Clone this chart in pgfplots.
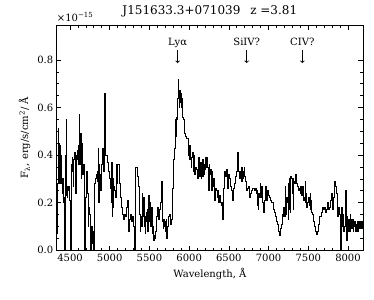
\documentclass[border=0pt]{standalone}
\usepackage{fontspec}
\setmainfont{DejaVu Serif}
\usepackage{pgfplots}
\pgfplotsset{compat=1.18}
\usepackage{pgfplotstable}
\pgfplotstableread{
lam flux
4337 0.07
4343 0.28
4349 0.51
4355 0.30
4362 0.45
4368 0.28
4374 0.44
4380 0.30
4387 0.40
4393 0.28
4400 0.24
4406 0.30
4412 0.20
4418 0.22
4425 -0.02
4437 0.26
4443 0.40
4450 0.55
4456 0.23
4463 0.22
4469 0.27
4475 0.25
4481 0.27
4488 0.21
4500 -0.02
4513 0.36
4525 0.39
4531 0.33
4538 0.27
4544 0.38
4551 0.41
4563 0.38
4569 0.24
4576 0.40
4588 0.38
4594 0.42
4601 0.44
4607 0.36
4614 0.57
4620 0.48
4626 0.36
4632 0.49
4639 0.30
4645 0.45
4651 0.32
4664 0.36
4677 -0.02
4689 0.22
4702 0.31
4708 0.33
4714 0.30
4720 0.24
4727 0.10
4733 0.18
4740 0.15
4752 -0.02
4765 0.05
4771 0.10
4777 0.03
4783 0.08
4790 -0.02
4802 0.06
4808 0.28
4815 0.30
4828 0.32
4840 0.33
4846 0.29
4853 0.43
4859 0.20
4865 0.36
4871 0.26
4878 0.32
4884 0.25
4891 0.36
4903 0.43
4909 0.36
4916 0.43
4922 0.33
4928 0.43
4934 0.66
4941 0.55
4947 0.40
4954 0.40
4966 0.37
4979 0.33
4991 0.30
5004 0.26
5016 0.20
5022 0.37
5029 0.14
5035 0.30
5042 0.18
5048 0.27
5054 0.25
5067 0.22
5079 0.28
5085 0.36
5092 0.28
5098 0.36
5105 0.36
5117 0.28
5130 0.22
5142 0.18
5155 0.15
5168 0.13
5180 0.15
5193 0.14
5205 0.18
5218 0.21
5231 0.14
5237 0.08
5243 0.13
5256 0.15
5268 0.12
5281 0.14
5294 0.10
5306 0.06
5312 -0.02
5325 0.35
5331 0.35
5344 0.31
5356 0.27
5369 0.20
5375 0.15
5382 0.08
5388 0.14
5394 0.10
5407 0.24
5413 0.20
5419 0.14
5425 0.22
5432 0.10
5438 0.14
5445 0.07
5451 0.12
5457 0.16
5470 0.17
5476 0.08
5482 0.10
5488 0.23
5495 0.18
5501 0.12
5508 0.20
5514 0.10
5520 0.18
5533 0.16
5539 0.07
5545 0.10
5551 0.04
5558 0.06
5570 0.05
5576 0.08
5583 0.14
5596 0.14
5602 0.18
5608 0.13
5621 0.17
5633 0.20
5646 0.20
5652 0.29
5659 0.24
5665 0.12
5671 0.09
5677 0.13
5684 0.10
5696 0.12
5702 0.08
5709 0.13
5715 0.05
5722 0.10
5734 0.14
5747 0.15
5759 0.11
5772 0.13
5784 0.26
5797 0.38
5810 0.43
5822 0.46
5828 0.55
5835 0.48
5841 0.56
5847 0.55
5853 0.64
5860 0.72
5866 0.66
5873 0.60
5879 0.67
5885 0.62
5891 0.66
5898 0.60
5904 0.64
5910 0.56
5923 0.55
5936 0.49
5948 0.48
5961 0.47
5973 0.47
5986 0.44
5992 0.40
5999 0.44
6005 0.38
6011 0.44
6017 0.38
6024 0.35
6030 0.39
6036 0.41
6049 0.38
6055 0.33
6061 0.40
6067 0.32
6074 0.35
6087 0.34
6099 0.30
6112 0.39
6124 0.38
6130 0.31
6137 0.37
6150 0.30
6156 0.37
6162 0.38
6168 0.31
6175 0.38
6181 0.32
6187 0.36
6200 0.34
6206 0.39
6213 0.35
6219 0.39
6225 0.35
6238 0.30
6244 0.25
6250 0.36
6256 0.32
6263 0.34
6275 0.30
6281 0.25
6288 0.33
6294 0.27
6301 0.30
6313 0.21
6326 0.26
6338 0.25
6351 0.22
6357 0.25
6364 0.20
6376 0.23
6389 0.20
6401 0.19
6414 0.13
6420 0.20
6427 0.13
6433 0.26
6439 0.33
6452 0.31
6464 0.34
6477 0.26
6490 0.32
6502 0.30
6515 0.27
6527 0.25
6540 0.21
6552 0.26
6565 0.28
6578 0.31
6590 0.33
6603 0.35
6609 0.41
6615 0.38
6621 0.33
6628 0.30
6641 0.33
6653 0.35
6659 0.29
6666 0.35
6672 0.30
6678 0.33
6691 0.35
6697 0.31
6704 0.29
6716 0.25
6729 0.26
6741 0.27
6754 0.22
6767 0.24
6779 0.25
6792 0.26
6804 0.26
6817 0.25
6829 0.26
6842 0.24
6855 0.25
6861 0.19
6867 0.17
6873 0.24
6880 0.22
6892 0.28
6898 0.22
6905 0.27
6918 0.24
6924 0.20
6930 0.16
6943 0.21
6955 0.27
6968 0.24
6974 0.21
6981 0.25
6993 0.23
7006 0.22
7018 0.21
7031 0.20
7044 0.20
7056 0.17
7069 0.16
7081 0.14
7094 0.12
7106 0.11
7119 0.08
7132 0.063
7144 0.09
7157 0.11
7169 0.15
7182 0.14
7188 0.18
7195 0.16
7201 0.14
7207 0.27
7213 0.15
7220 0.22
7232 0.20
7245 0.13
7251 0.28
7258 0.17
7264 0.30
7270 0.16
7276 0.31
7283 0.30
7295 0.24
7301 0.30
7308 0.17
7314 0.29
7321 0.28
7333 0.32
7346 0.28
7358 0.27
7371 0.25
7383 0.26
7396 0.24
7402 0.27
7409 0.23
7421 0.27
7434 0.21
7446 0.22
7459 0.29
7465 0.20
7472 0.24
7478 0.18
7484 0.20
7497 0.22
7509 0.19
7522 0.24
7528 0.17
7535 0.21
7541 0.16
7547 0.15
7560 0.12
7572 0.10
7585 0.08
7597 0.065
7610 0.08
7623 0.11
7635 0.14
7648 0.14
7660 0.16
7673 0.18
7686 0.17
7698 0.18
7711 0.16
7723 0.17
7736 0.20
7749 0.17
7761 0.18
7774 0.21
7786 0.24
7799 0.17
7812 0.22
7824 0.29
7837 0.27
7849 0.24
7862 0.22
7868 0.14
7874 0.18
7887 0.15
7900 0.14
7906 -0.02
7918 0.18
7925 0.16
7931 0.10
7937 0.15
7943 0.08
7950 0.10
7963 0.13
7969 0.25
7975 0.10
7981 0.04
7988 0.14
7994 0.08
8000 0.13
8013 0.11
8019 0.08
8026 0.15
8032 0.09
8038 0.13
8051 0.09
8057 0.13
8063 0.08
8069 0.12
8076 0.10
8088 0.12
8094 0.08
8101 0.11
8114 0.12
8120 0.08
8126 0.12
8132 0.09
8139 0.12
8151 0.09
8157 0.12
8164 0.11
8170 0.09
8177 0.12
8183 0.10
8189 0.11
}\spec

\begin{document}
\begin{tikzpicture}
\begin{axis}[
  scale only axis, width=306pt, height=225pt,
  xmin=4333, xmax=8189, ymin=0, ymax=0.947,
  xtick={4500,5000,...,8000}, minor x tick num=4,
  ytick={0,0.2,0.4,0.6,0.8}, minor y tick num=3,
  tick align=inside, major tick length=4.5pt, minor tick length=2.5pt,
  axis line style={line width=0.9pt},
  every tick/.style={black, line width=0.7pt},
  tick label style={font=\fontsize{10}{12}\selectfont},
  /pgf/number format/assume math mode=true,
  /pgf/number format/1000 sep={},
  yticklabel style={/pgf/number format/.cd, fixed, fixed zerofill, precision=1},
  scaled y ticks=false, scaled x ticks=false,
  xlabel={Wavelength, Å},
  ylabel={F\textsubscript{λ}, erg/s/cm\textsuperscript{2}/ Å},
  label style={font=\fontsize{10}{12}\selectfont},
  title={J151633.3+071039\hspace{6pt} z =3.81},
  title style={font=\fontsize{12}{14}\selectfont, at={(rel axis cs:0.5,1)}, anchor=base, yshift=5pt},
]
\addplot[const plot mark left, black, line width=0.9pt] table[x=lam, y=flux] {\spec};
\node[anchor=base, font=\fontsize{10}{12}\selectfont] at (axis cs:5855,0.859) {Lyα};
\draw[->, line width=0.8pt] (axis cs:5855,0.842) -- (axis cs:5855,0.787);
\node[anchor=base, font=\fontsize{10}{12}\selectfont] at (axis cs:6725,0.859) {SiIV?};
\draw[->, line width=0.8pt] (axis cs:6725,0.842) -- (axis cs:6725,0.787);
\node[anchor=base, font=\fontsize{10}{12}\selectfont] at (axis cs:7425,0.859) {CIV?};
\draw[->, line width=0.8pt] (axis cs:7425,0.842) -- (axis cs:7425,0.787);
\end{axis}
\node[anchor=base west, inner sep=0pt, font=\fontsize{10}{12}\selectfont] at ([yshift=3.5pt]current axis.north west) {×10\textsuperscript{−15}};
\path (current axis.south west) ++(-56.7pt,-49pt) coordinate (bb1);
\path (current axis.north east) ++(11pt,25pt) coordinate (bb2);
\path (bb1) rectangle (bb2);
\end{tikzpicture}
\end{document}
